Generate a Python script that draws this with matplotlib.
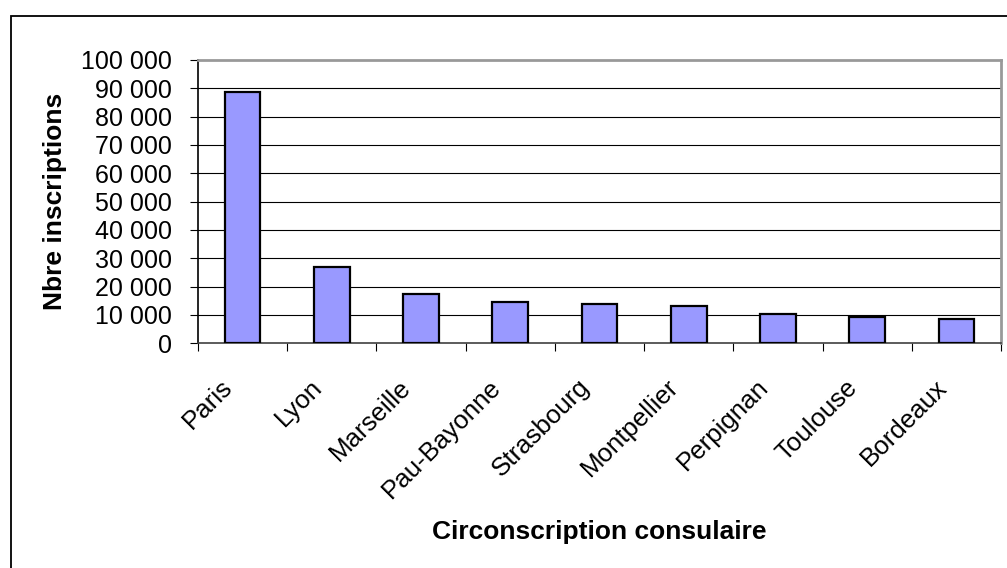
import matplotlib
matplotlib.use("Agg")
import matplotlib.pyplot as plt
from matplotlib.ticker import FuncFormatter, FixedLocator
from matplotlib.patches import Rectangle
from matplotlib.transforms import ScaledTranslation

categories = ["Paris", "Lyon", "Marseille", "Pau-Bayonne", "Strasbourg",
              "Montpellier", "Perpignan", "Toulouse", "Bordeaux"]
values = [88800, 26900, 17400, 14500, 14000, 13300, 10200, 9200, 8700]
y_ticks = list(range(0, 100001, 10000))
y_label = "Nbre inscriptions"
x_label = "Circonscription consulaire"

plt.rcParams['font.family'] = ['Liberation Sans', 'DejaVu Sans']

W, H = 1007, 568
fig = plt.figure(figsize=(W / 100, H / 100), dpi=100)
fig.patch.set_facecolor("white")

left, right, top, bottom = 198, 1001, 60, 343.3
ax = fig.add_axes([left / W, 1 - bottom / H, (right - left) / W, (bottom - top) / H])

x = list(range(len(categories)))
ax.bar(x, values, width=0.4, color="#9999FF", edgecolor="black", linewidth=1.6, zorder=3)

ax.set_xlim(-0.5, len(categories) - 0.5)
ax.set_ylim(0, 100000)

ax.set_yticks(y_ticks)
ax.yaxis.set_major_formatter(FuncFormatter(lambda v, p: f"{v:,.0f}".replace(",", " ")))
ax.tick_params(axis="y", direction="out", length=6, width=0.8, pad=12.5, labelsize=18, color="black")

ax.set_xticks(x)
ax.set_xticklabels(categories, rotation=45, ha="right", va="bottom", rotation_mode="anchor", fontsize=18.6)
ax.tick_params(axis="x", which="major", length=0, pad=35)
offset = ScaledTranslation(-5 / 100, 0, fig.dpi_scale_trans)
for lbl in ax.get_xticklabels():
    lbl.set_transform(lbl.get_transform() + offset)
ax.xaxis.set_minor_locator(FixedLocator([i - 0.5 for i in range(len(categories) + 1)]))
ax.tick_params(axis="x", which="minor", direction="out", length=6, width=0.8, color="black")

for v in y_ticks[1:-1]:
    ax.axhline(v, color="black", linewidth=0.8, zorder=1)

ax.spines["left"].set_color("black")
ax.spines["left"].set_linewidth(1.2)
ax.spines["bottom"].set_color("#404040")
ax.spines["bottom"].set_linewidth(1.2)
ax.spines["top"].set_color("#999999")
ax.spines["top"].set_linewidth(2)
ax.spines["right"].set_color("#999999")
ax.spines["right"].set_linewidth(2)

fig.text(62 / W, 1 - 201.7 / H, y_label, rotation=90, rotation_mode="anchor",
         ha="center", va="baseline", fontsize=19, fontweight="bold")
fig.text(599.5 / W, 1 - 539 / H, x_label, ha="center", va="baseline",
         fontsize=19, fontweight="bold")

frame = Rectangle((11 / W, -0.1), 1.2, 1 - 16 / H + 0.1, transform=fig.transFigure,
                  fill=False, edgecolor="black", linewidth=1.3)
fig.patches.append(frame)

fig.savefig("out.png", dpi=100)
